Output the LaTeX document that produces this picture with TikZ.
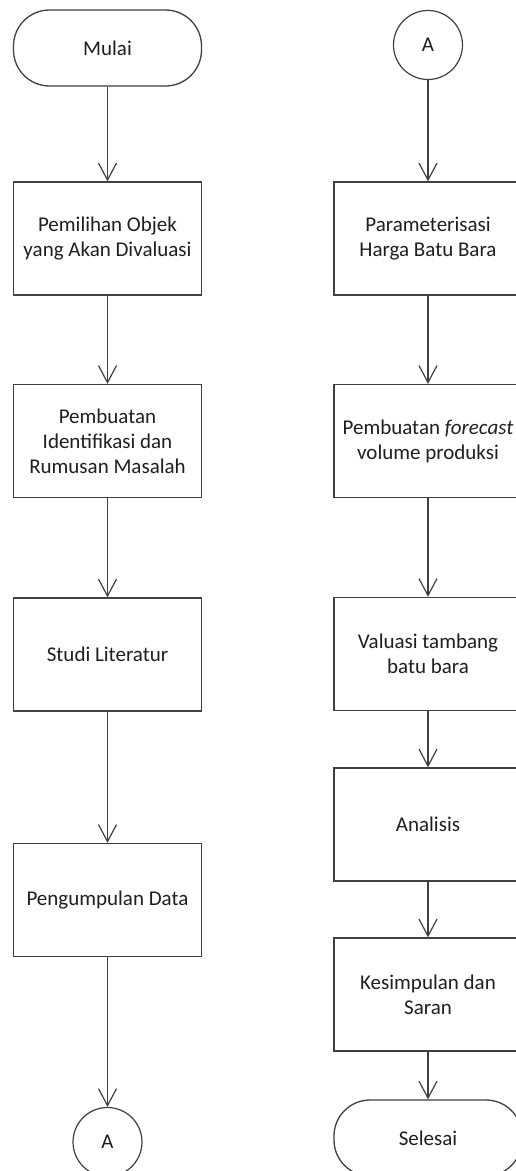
\documentclass[tikz,border=0pt]{standalone}
\usepackage{fontspec}
\setmainfont{Carlito}
\usetikzlibrary{arrows.meta}
\begin{document}
\begin{tikzpicture}[x=1pt,y=-1pt,
  lbl/.style={align=center, font=\fontsize{21}{25}\selectfont, text=black!88},
  box/.style={lbl, draw=black!75, line width=1.3pt, minimum width=188pt, minimum height=113pt, inner sep=0pt},
  term/.style={box, minimum height=76pt, rounded corners=36pt},
  conn/.style={lbl, draw=black!75, circle, line width=1.2pt, minimum size=69pt, inner sep=0pt},
  flow/.style={draw=black!75, line width=1.2pt, -{Straight Barb[length=17pt,width=18pt]}}]
\useasboundingbox (0,0) rectangle (515,1171);
\fill[white] (0,0) rectangle (515,1171);
% left column
\node[term] (mulai) at (107.5,48) {Mulai};
\node[box] (l1) at (107.5,238.5) {Pemilihan Objek\\yang Akan Divaluasi};
\node[box] (l2) at (107.5,441) {Pembuatan\\Identifikasi dan\\Rumusan Masalah};
\node[box] (l3) at (107.5,654.5) {Studi Literatur};
\node[box] (l4) at (107.5,900) {Pengumpulan Data};
\node[conn] (la) at (107.5,1142) {A};
% right column
\node[conn] (ra) at (428,45) {A};
\node[box] (r1) at (428,238.5) {Parameterisasi\\Harga Batu Bara};
\node[box] (r2) at (428,441) {Pembuatan \textit{forecast}\\volume produksi};
\node[box] (r3) at (428,654) {Valuasi tambang\\batu bara};
\node[box] (r4) at (428,824.5) {Analisis};
\node[box] (r5) at (428,994.5) {Kesimpulan dan\\Saran};
\node[term] (selesai) at (428,1138) {Selesai};
% connectors
\draw[flow] (mulai) -- (l1);
\draw[flow] (l1) -- (l2);
\draw[flow] (l2) -- (l3);
\draw[flow] (l3) -- (l4);
\draw[flow] (l4) -- (la);
\draw[flow] (ra) -- (r1);
\draw[flow] (r1) -- (r2);
\draw[flow] (r2) -- (r3);
\draw[flow] (r3) -- (r4);
\draw[flow] (r4) -- (r5);
\draw[flow] (r5) -- (selesai);
\end{tikzpicture}
\end{document}
